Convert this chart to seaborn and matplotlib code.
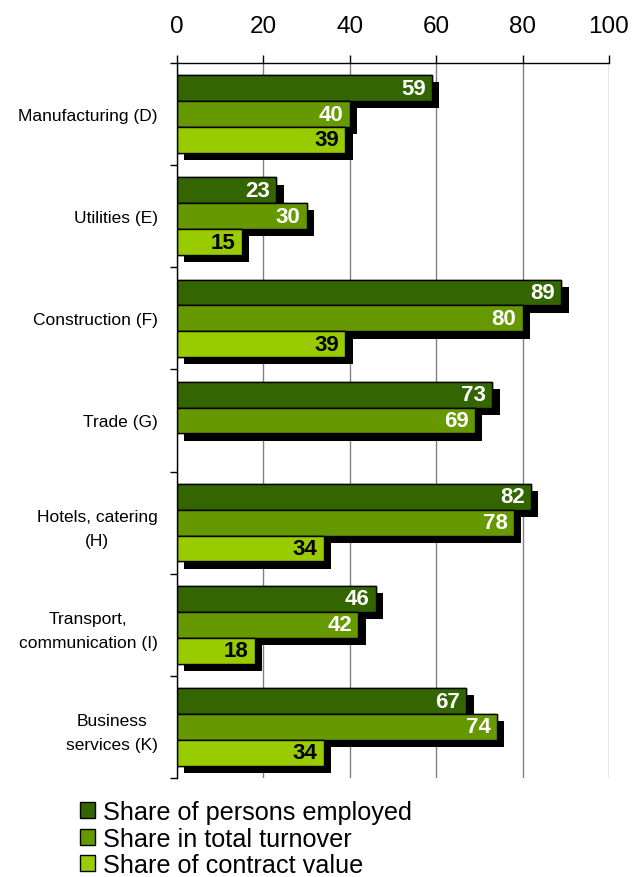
import numpy as np
import pandas as pd
import matplotlib
matplotlib.use("Agg")
import matplotlib.pyplot as plt
import matplotlib.patheffects as pe
import seaborn as sns

sectors = [
    "Manufacturing (D)",
    "Utilities (E)",
    "Construction (F)",
    "Trade (G)",
    "Hotels, catering\n(H)",
    "Transport,\ncommunication (I)",
    "Business\nservices (K)",
]
series_names = [
    "Share of persons employed",
    "Share in total turnover",
    "Share of contract value",
]
persons_employed = [59, 23, 89, 73, 82, 46, 67]
total_turnover = [40, 30, 80, 69, 78, 42, 74]
contract_value = [39, 15, 39, np.nan, 34, 18, 34]
x_ticks = [0, 20, 40, 60, 80, 100]

colors = ["#336600", "#669900", "#99CC00"]
label_colors = ["white", "white", "black"]

rows = []
for name, vals in zip(series_names, [persons_employed, total_turnover, contract_value]):
    for sec, v in zip(sectors, vals):
        rows.append({"sector": sec, "series": name, "value": v})
df = pd.DataFrame(rows)

sns.set_style("white")
plt.rcParams["font.family"] = ["Liberation Sans", "DejaVu Sans"]
plt.rcParams["text.color"] = "black"
plt.rcParams["xtick.color"] = "black"
plt.rcParams["ytick.color"] = "black"
plt.rcParams["axes.labelcolor"] = "black"

fig = plt.figure(figsize=(6.33, 8.78), dpi=100)
ax = fig.add_axes([177 / 633, 1 - 779 / 878, 432 / 633, 715 / 878])

sns.barplot(
    data=df, y="sector", x="value", hue="series", orient="h",
    order=sectors, hue_order=series_names, palette=colors,
    saturation=1, width=0.76, edgecolor="black", linewidth=1,
    errorbar=None, ax=ax,
)

# drop shadow behind each bar
shadow = [pe.withSimplePatchShadow(offset=(5.2, -5.2), shadow_rgbFace="black", alpha=1.0), pe.Normal()]
for container, tcol in zip(ax.containers, label_colors):
    for bar in container:
        w = bar.get_width()
        if not np.isfinite(w) or w == 0:
            continue
        bar.set_path_effects(shadow)
        yc = bar.get_y() + bar.get_height() / 2
        ax.annotate(f"{w:.0f}", xy=(w, yc), xytext=(-4.5, 0), textcoords="offset points",
                    ha="right", va="center", fontsize=16, fontweight="bold", color=tcol,
                    zorder=5)

handles, labels = ax.get_legend_handles_labels()
ax.get_legend().remove()

ax.set_xlim(0, 100)
ax.set_ylim(6.5, -0.5)
ax.set_xticks(x_ticks)
ax.set_xticklabels([str(t) for t in x_ticks])
ax.xaxis.tick_top()
ax.tick_params(axis="x", which="major", length=6, width=1, pad=13, labelsize=17.5,
               direction="out", color="black", labelcolor="black")
ax.set_yticks(range(len(sectors)))
ax.set_yticklabels(sectors, fontsize=12.5, ha="right", multialignment="center",
                   linespacing=1.75, color="black")
ax.set_yticks(np.arange(-0.5, len(sectors), 1), minor=True)
ax.tick_params(axis="y", which="major", length=0, pad=14)
ax.tick_params(axis="y", which="minor", length=5, width=1, direction="out", color="black", left=True)
ax.set_xlabel("")
ax.set_ylabel("")

ax.grid(axis="x", color="#808080", linewidth=1)
ax.grid(axis="y", visible=False)
ax.set_axisbelow(True)
for side in ["right", "bottom"]:
    ax.spines[side].set_visible(False)
for side in ["top", "left"]:
    ax.spines[side].set_color("black")
    ax.spines[side].set_linewidth(1)

fig.legend(handles, labels, loc="upper left", bbox_to_anchor=(80 / 633, 1 - 801 / 878),
           frameon=False, fontsize=18.2, handlelength=0.6, handleheight=0.6,
           handletextpad=0.3, labelspacing=0.1, borderpad=0, borderaxespad=0)

fig.savefig("out.png", dpi=100)
